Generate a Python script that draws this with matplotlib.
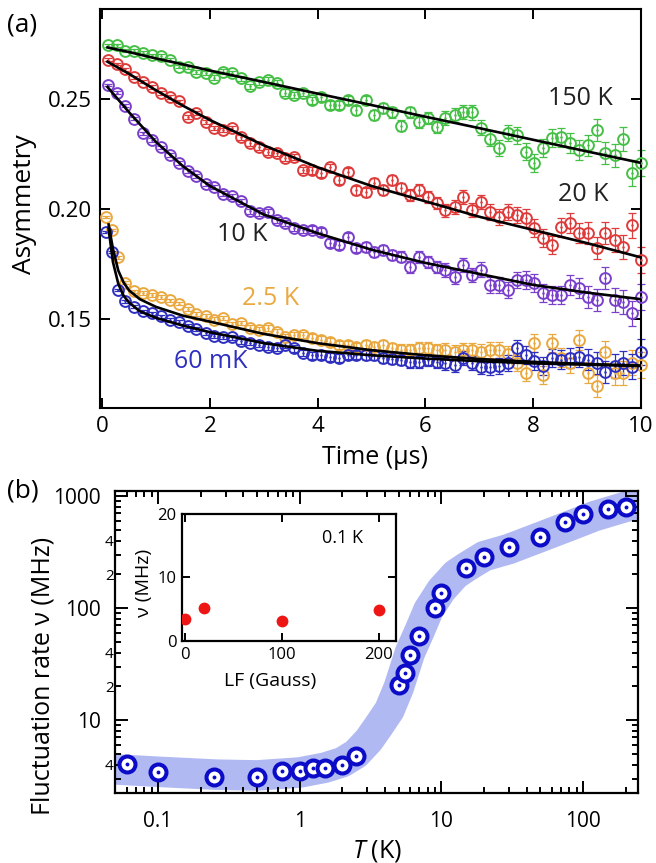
import matplotlib
matplotlib.use('Agg')
import matplotlib.pyplot as plt
from matplotlib.ticker import FixedLocator, FuncFormatter, LogLocator, NullFormatter
import numpy as np

plt.rcParams['font.family'] = ['Open Sans', 'DejaVu Sans']
plt.rcParams['mathtext.fontset'] = 'custom'
plt.rcParams['mathtext.it'] = 'Open Sans:italic'
plt.rcParams['mathtext.rm'] = 'Open Sans'

# ---- (a) muon asymmetry spectra ----
time = [0.10, 0.27, 0.43, 0.60, 0.76, 0.93, 1.09, 1.26, 1.42, 1.59,
        1.75, 1.92, 2.08, 2.25, 2.41, 2.58, 2.74, 2.91, 3.07, 3.24,
        3.40, 3.57, 3.73, 3.90, 4.06, 4.23, 4.39, 4.56, 4.72, 4.89,
        5.05, 5.22, 5.38, 5.55, 5.71, 5.88, 6.04, 6.21, 6.37, 6.54,
        6.70, 6.87, 7.03, 7.20, 7.36, 7.53, 7.69, 7.86, 8.02, 8.19,
        8.35, 8.52, 8.68, 8.85, 9.01, 9.18, 9.34, 9.51, 9.67, 9.84,
        10.00]
time_low = [0.07, 0.18, 0.30] + time[2:]

err = [0.0006, 0.0006, 0.0006, 0.0007, 0.0007, 0.0007, 0.0008, 0.0008, 0.0008, 0.0009,
       0.0009, 0.0009, 0.0010, 0.0010, 0.0011, 0.0011, 0.0012, 0.0012, 0.0013, 0.0013,
       0.0014, 0.0015, 0.0015, 0.0016, 0.0017, 0.0017, 0.0018, 0.0019, 0.0020, 0.0021,
       0.0022, 0.0023, 0.0024, 0.0025, 0.0026, 0.0027, 0.0028, 0.0029, 0.0030, 0.0031,
       0.0032, 0.0033, 0.0034, 0.0035, 0.0036, 0.0037, 0.0038, 0.0039, 0.0040, 0.0041,
       0.0042, 0.0043, 0.0045, 0.0046, 0.0048, 0.0049, 0.0051, 0.0053, 0.0055, 0.0057,
       0.0060]
err_low = [0.0006] + err

asym_150K = [0.2745, 0.2745, 0.2720, 0.2720, 0.2710, 0.2700, 0.2695, 0.2680, 0.2648, 0.2645,
             0.2625, 0.2618, 0.2598, 0.2625, 0.2618, 0.2595, 0.2558, 0.2577, 0.2586, 0.2573,
             0.2530, 0.2518, 0.2527, 0.2495, 0.2510, 0.2473, 0.2473, 0.2495, 0.2450, 0.2495,
             0.2427, 0.2460, 0.2440, 0.2380, 0.2440, 0.2395, 0.2414, 0.2373, 0.2414, 0.2427,
             0.2440, 0.2440, 0.2370, 0.2320, 0.2277, 0.2345, 0.2336, 0.2260, 0.2210, 0.2277,
             0.2323, 0.2327, 0.2300, 0.2268, 0.2290, 0.2360, 0.2255, 0.2245, 0.2320, 0.2164,
             0.2210]
asym_20K = [0.2680, 0.2660, 0.2635, 0.2600, 0.2580, 0.2555, 0.2527, 0.2510, 0.2490, 0.2420,
            0.2436, 0.2395, 0.2370, 0.2359, 0.2368, 0.2327, 0.2300, 0.2282, 0.2260, 0.2255,
            0.2232, 0.2236, 0.2177, 0.2177, 0.2164, 0.2190, 0.2132, 0.2168, 0.2086, 0.2077,
            0.2118, 0.2086, 0.2132, 0.2095, 0.2064, 0.2086, 0.2055, 0.2027, 0.1995, 0.2009,
            0.2055, 0.1995, 0.2032, 0.1986, 0.1964, 0.1986, 0.1973, 0.1959, 0.1914, 0.1868,
            0.1836, 0.1918, 0.1936, 0.1891, 0.1891, 0.1823, 0.1891, 0.1859, 0.1827, 0.1927,
            0.1768]
asym_10K = [0.2564, 0.2530, 0.2470, 0.2410, 0.2345, 0.2314, 0.2280, 0.2245, 0.2210, 0.2175,
            0.2150, 0.2115, 0.2100, 0.2070, 0.2058, 0.2035, 0.1990, 0.1982, 0.1986, 0.1950,
            0.1935, 0.1914, 0.1905, 0.1905, 0.1895, 0.1845, 0.1836, 0.1873, 0.1823, 0.1827,
            0.1805, 0.1814, 0.1791, 0.1782, 0.1736, 0.1782, 0.1759, 0.1736, 0.1723, 0.1691,
            0.1745, 0.1700, 0.1723, 0.1655, 0.1655, 0.1632, 0.1677, 0.1677, 0.1664, 0.1618,
            0.1609, 0.1609, 0.1655, 0.1641, 0.1600, 0.1586, 0.1686, 0.1586, 0.1577, 0.1527,
            0.1600]
asym_2p5K = [0.1964, 0.1905, 0.1780, 0.1665, 0.1625, 0.1618, 0.1609, 0.1600, 0.1585, 0.1570,
             0.1545, 0.1522, 0.1512, 0.1497, 0.1505, 0.1475, 0.1482, 0.1460, 0.1451, 0.1459,
             0.1441, 0.1418, 0.1427, 0.1427, 0.1414, 0.1405, 0.1395, 0.1382, 0.1382, 0.1373,
             0.1382, 0.1373, 0.1382, 0.1368, 0.1359, 0.1359, 0.1368, 0.1368, 0.1359, 0.1359,
             0.1350, 0.1359, 0.1359, 0.1350, 0.1359, 0.1360, 0.1340, 0.1300, 0.1255, 0.1390,
             0.1245, 0.1390, 0.1323, 0.1300, 0.1405, 0.1255, 0.1195, 0.1350, 0.1255, 0.1255,
             0.1300, 0.1290]
asym_60mK = [0.1895, 0.1805, 0.1632, 0.1580, 0.1555, 0.1535, 0.1527, 0.1512, 0.1495, 0.1486,
             0.1470, 0.1455, 0.1435, 0.1423, 0.1418, 0.1416, 0.1398, 0.1392, 0.1383, 0.1373,
             0.1368, 0.1380, 0.1366, 0.1345, 0.1336, 0.1336, 0.1327, 0.1323, 0.1336, 0.1336,
             0.1336, 0.1336, 0.1323, 0.1320, 0.1314, 0.1305, 0.1305, 0.1314, 0.1305, 0.1300,
             0.1291, 0.1323, 0.1300, 0.1282, 0.1282, 0.1286, 0.1300, 0.1368, 0.1336, 0.1310,
             0.1286, 0.1323, 0.1314, 0.1323, 0.1327, 0.1314, 0.1300, 0.1259, 0.1286, 0.1300,
             0.1282, 0.1350]

# fitted relaxation curves
fit_t = [0.1, 0.5, 1, 1.5, 2, 3, 4, 5, 6, 7, 8, 9, 10]
fit_150K = [0.2735, 0.2714, 0.2685, 0.2658, 0.2630, 0.2578, 0.2525, 0.2473, 0.2420, 0.2368, 0.2315, 0.2262, 0.2210]
fit_20K = [0.2670, 0.2615, 0.2540, 0.2470, 0.2405, 0.2290, 0.2190, 0.2105, 0.2035, 0.1965, 0.1905, 0.1845, 0.1780]
fit_10K = [0.2555, 0.2440, 0.2305, 0.2195, 0.2105, 0.1975, 0.1890, 0.1815, 0.1755, 0.1705, 0.1655, 0.1620, 0.1590]
fit_low_t = [0.12, 0.2, 0.3, 0.4, 0.5, 0.7, 1.0, 1.5, 2, 3, 4, 5, 6, 7, 8, 9, 10]
fit_2p5K = [0.1930, 0.1820, 0.1720, 0.1665, 0.1630, 0.1590, 0.1555, 0.1515, 0.1488, 0.1432, 0.1390,
            0.1358, 0.1335, 0.1318, 0.1305, 0.1295, 0.1288]
fit_60mK = [0.1910, 0.1760, 0.1660, 0.1605, 0.1575, 0.1535, 0.1505, 0.1470, 0.1440, 0.1390, 0.1355,
            0.1335, 0.1320, 0.1308, 0.1298, 0.1292, 0.1286]

# ---- (b) fluctuation rate vs temperature ----
temp = [0.06, 0.1, 0.25, 0.5, 0.75, 1.0, 1.25, 1.5, 2.0, 2.5,
        5.0, 5.5, 6.0, 7.0, 9.0, 10, 15, 20, 30, 50, 75, 100, 150, 200]
rate = [4.05, 3.43, 3.10, 3.10, 3.5, 3.5, 3.73, 3.73, 3.97, 4.77,
        20.5, 26.3, 38, 56, 100, 136, 228, 285, 351, 430, 587, 690, 766, 798]
band_T = [0.045, 0.1, 0.26, 0.5, 1.0, 1.5, 2.0, 2.5, 3.07, 3.6, 4.3, 5.0, 6.0, 7.0,
          8.1, 10, 12.6, 15, 20, 30, 50, 80, 120, 200, 260]
band_rate = [3.65, 3.45, 3.25, 3.2, 3.4, 3.75, 4.2, 5.0, 6.6, 8.8, 12.3, 19.5, 40, 62,
             96, 145, 200, 232, 290, 336, 430, 540, 660, 800, 850]

# inset: longitudinal field dependence at 0.1 K
lf_field = [0, 20, 100, 200]
lf_rate = [3.5, 5.2, 3.2, 4.9]

green = '#46bf46'
red = '#de3b3b'
purple = '#7a40cc'
orange = '#eaa940'
blue = '#2f2fc0'

fig = plt.figure(figsize=(6.56, 8.63), dpi=100)

ax = fig.add_axes([0.1524, 0.5272, 0.8247, 0.4624])
series = [(time, asym_150K, err, green), (time, asym_20K, err, red),
          (time, asym_10K, err, purple), (time_low, asym_2p5K, err_low, orange),
          (time_low, asym_60mK, err_low, blue)]
for t, a, e, c in series:
    ax.errorbar(t, a, yerr=e, fmt='none', ecolor=c, elinewidth=0.9,
                capsize=3, capthick=0.9, clip_on=False, zorder=2)
    ax.plot(t, a, 'o', mfc='none', mec=c, ms=7.8, mew=1.4, clip_on=False, zorder=3)
    ax.plot(t, a, 'o', color=c, ms=1.8, mew=0, clip_on=False, zorder=3)
for t, f in [(fit_t, fit_150K), (fit_t, fit_20K), (fit_t, fit_10K),
             (fit_low_t, fit_2p5K), (fit_low_t, fit_60mK)]:
    ax.plot(t, f, '-', color='black', lw=1.9, zorder=4, solid_joinstyle='round')

ax.set_xlim(-0.04, 10.0)
ax.set_ylim(0.1095, 0.291)
ax.xaxis.set_major_locator(FixedLocator([0, 2, 4, 6, 8, 10]))
ax.yaxis.set_major_locator(FixedLocator([0.15, 0.20, 0.25]))
ax.yaxis.set_major_formatter(FuncFormatter(lambda v, p: '%.2f' % v))
ax.tick_params(direction='in', length=7, width=1.4, top=True, right=True,
               labelsize=16, pad=6)
for s in ax.spines.values():
    s.set_linewidth(1.5)
ax.set_ylabel('Asymmetry', fontsize=19)
ax.yaxis.set_label_coords(-0.116, 0.511)
ax.set_xlabel('Time (µs)', fontsize=18)
ax.xaxis.set_label_coords(0.508, -0.093)

ax.text(8.87, 0.2505, '150 K', fontsize=18, color='#222222', ha='center', va='center')
ax.text(8.92, 0.2068, '20 K', fontsize=18, color='#222222', ha='center', va='center')
ax.text(2.6, 0.1882, '10 K', fontsize=18, color='#222222', ha='center', va='center')
ax.text(3.12, 0.1595, '2.5 K', fontsize=18, color=orange, ha='center', va='center')
ax.text(2.02, 0.1305, '60 mK', fontsize=18, color=blue, ha='center', va='center')

fig.text(7 / 656, 1 - 25 / 863, '(a)', fontsize=19, ha='left', va='center')
fig.text(7 / 656, 1 - 491 / 863, '(b)', fontsize=19, ha='left', va='center')

# bottom panel
bx = fig.add_axes([0.1753, 0.0811, 0.7973, 0.35])
bx.set_xscale('log')
bx.set_yscale('log')
bx.plot(band_T, band_rate, '-', color='#b0b9f2', lw=22, solid_joinstyle='round',
        solid_capstyle='butt', zorder=1)
bx.plot(temp, rate, 'o', mfc='white', mec='#0b0bc8', ms=11.5, mew=2.9, zorder=3)
bx.plot(temp, rate, 'o', color='#0b0bc8', ms=2.8, mew=0, zorder=4)
bx.set_xlim(0.0497, 244)
bx.set_ylim(2.23, 1108)
bx.xaxis.set_major_locator(FixedLocator([0.1, 1, 10, 100]))
bx.xaxis.set_major_formatter(FuncFormatter(lambda v, p: '%g' % v))
bx.xaxis.set_minor_locator(LogLocator(base=10, subs=np.arange(2, 10)))
bx.xaxis.set_minor_formatter(NullFormatter())
bx.yaxis.set_major_locator(FixedLocator([10, 100, 1000]))
bx.yaxis.set_major_formatter(FuncFormatter(lambda v, p: '%g' % v))
bx.yaxis.set_minor_locator(LogLocator(base=10, subs=np.arange(2, 10)))


def minor_label(v, p):
    m = int(round(v / 10 ** np.floor(np.log10(v) + 1e-9)))
    return str(m) if m in (2, 4) else ''


bx.yaxis.set_minor_formatter(FuncFormatter(minor_label))
bx.tick_params(which='both', direction='in', top=True, right=True, width=1.4)
bx.tick_params(which='major', length=9, labelsize=15)
bx.tick_params(which='minor', length=4.5, labelsize=11)
bx.tick_params(axis='x', which='major', pad=13)
bx.tick_params(axis='y', which='major', pad=10)
bx.tick_params(axis='y', which='minor', pad=1)
for s in bx.spines.values():
    s.set_linewidth(1.6)
bx.set_ylabel('Fluctuation rate ν (MHz)', fontsize=18)
bx.yaxis.set_label_coords(-0.113, 0.387)
bx.set_xlabel('$T$ (K)', fontsize=18)
bx.xaxis.set_label_coords(0.501, -0.149)

# inset
ix = fig.add_axes([0.2774, 0.2573, 0.3263, 0.1471])
ix.plot(lf_field, lf_rate, 'o', color='#ee1515', ms=8.5, mew=0, zorder=3)
ix.set_xlim(-3, 218)
ix.set_ylim(0, 20)
ix.xaxis.set_major_locator(FixedLocator([0, 100, 200]))
ix.yaxis.set_major_locator(FixedLocator([0, 10, 20]))
ix.tick_params(direction='in', length=6, width=1.4, top=True, right=True,
               labelsize=12, pad=4)
for s in ix.spines.values():
    s.set_linewidth(1.6)
ix.set_xlabel('LF (Gauss)', fontsize=14)
ix.xaxis.set_label_coords(0.411, -0.244)
ix.set_ylabel('ν (MHz)', fontsize=14)
ix.yaxis.set_label_coords(-0.136, 0.457)
ix.text(0.752, 0.81, '0.1 K', transform=ix.transAxes, fontsize=13,
        ha='center', va='center')

fig.savefig('out.png', dpi=100)
